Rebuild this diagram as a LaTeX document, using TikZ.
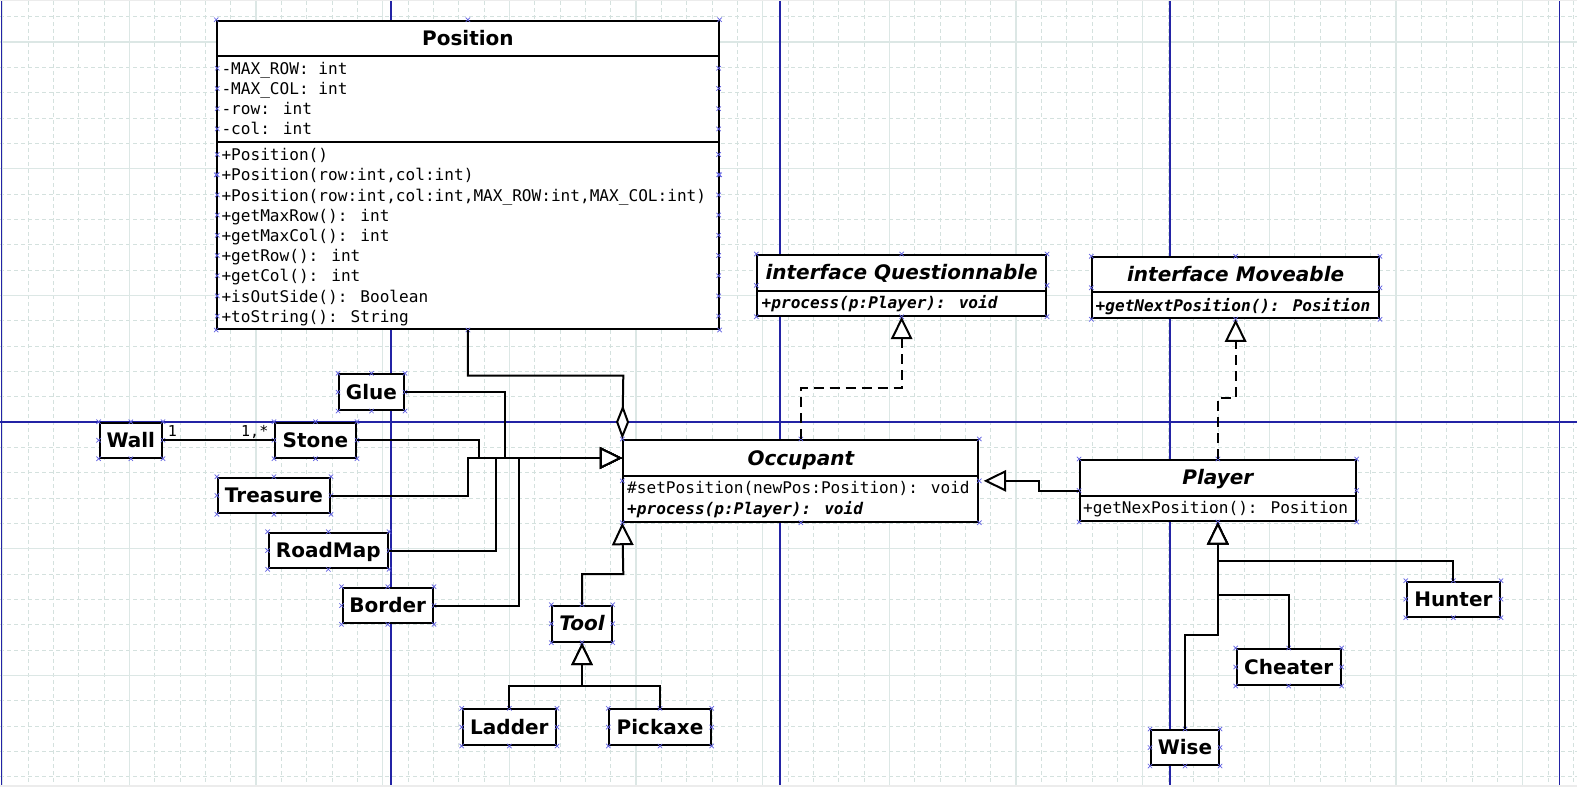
\documentclass[tikz,border=0pt]{standalone}
\usepackage{fontspec}
\setmainfont{DejaVu Sans}
\newfontfamily\monof{DejaVu Sans Mono}
\usetikzlibrary{arrows.meta}
\definecolor{gridminor}{RGB}{212,225,222}
\definecolor{gridmajor}{RGB}{220,231,229}
\definecolor{pagebreak}{RGB}{35,35,165}
\definecolor{edgegray}{RGB}{236,236,236}
\definecolor{cpblue}{RGB}{95,95,225}
\tikzset{
  umlbox/.style={draw=black, line width=2pt, fill=white, inner sep=0pt},
  ttl/.style={font=\fontsize{20}{24}\selectfont\bfseries, text height=14.6pt, text depth=0.6pt, inner sep=0pt},
  ttli/.style={ttl, font=\fontsize{20}{24}\selectfont\bfseries\itshape},
  smallcls/.style={umlbox, ttl},
  smallclsi/.style={umlbox, ttli},
  rowtxt/.style={font=\fontsize{16.1}{19}\selectfont\monof, anchor=base west, inner sep=0pt},
  rowbi/.style={rowtxt, font=\fontsize{16.1}{19}\selectfont\monof\bfseries\itshape},
  postxt/.style={rowtxt},
  divider/.style={line width=2pt},
  conn/.style={line width=2pt},
  gen/.style={conn, -{Triangle[length=22.5pt, width=21.5pt, fill=white]}},
  real/.style={gen, dash pattern=on 10pt off 6pt},
  agg/.style={conn, -{Diamond[length=34pt, width=13pt, fill=white]}},
  mult/.style={font=\fontsize{15}{18}\selectfont\monof, inner sep=0pt},
  minorline/.style={gridminor, line width=1pt, dash pattern=on 4pt off 3pt},
  majorline/.style={gridmajor, line width=1.4pt},
  pbline/.style={pagebreak, line width=1.3pt},
  cpmark/.style={cpblue, line width=0.7pt},
}
\newcommand\cpmarks[1]{%
  \foreach \a in {north west,north,north east,east,south east,south,south west,west}
    \draw[cpmark] (#1.\a) ++(-2.2,-2.2) -- ++(4.4,4.4) ++(-4.4,0) -- ++(4.4,-4.4);}
\begin{document}
\begin{tikzpicture}[x=1pt,y=-1pt]
\useasboundingbox (0,0) rectangle (1577,787);
% ---- background, grid and page-break lines
\fill[white] (0,0) rectangle (1577,787);
\fill[edgegray] (0,784.5) rectangle (1577,787);
\fill[edgegray] (0,0) rectangle (1577,1);
\foreach \i in {0,...,62} \draw[minorline] ({2.7+25.333*\i},1) -- ({2.7+25.333*\i},784.5);
\foreach \j in {0,...,30} \draw[minorline] (0,{16.7+25.333*\j}) -- (1577,{16.7+25.333*\j});
\foreach \i in {0,...,12} \draw[majorline] ({2.7+126.667*\i},1) -- ({2.7+126.667*\i},784.5);
\foreach \j in {0,...,5} \draw[majorline] (0,{42+126.667*\j}) -- (1577,{42+126.667*\j});
\foreach \x in {1.5,391,780,1170,1559.3} \draw[pbline] (\x,1) -- (\x,784.5);
\draw[pbline] (0,422) -- (1577,422);

% ---- Position
\node[umlbox, minimum width=501.4pt, minimum height=308.3pt] (position) at (467.9,174.85) {};
\node[ttl] (positionT) at (467.9,38.2) {Position};
\draw[divider] (217.2,55.7) -- (718.6,55.7);
\draw[divider] (217.2,142.3) -- (718.6,142.3);
\foreach [count=\k] \t in {-MAX\_ROW: int,-MAX\_COL: int,-row: int,-col: int}
  \node[postxt] (posA\k) at (221.3,{74.3+20.2*(\k-1)}) {\t};
\foreach [count=\k] \t in {+Position(),{+Position(row:int,col:int)},{+Position(row:int,col:int,MAX\_ROW:int,MAX\_COL:int)},+getMaxRow(): int,+getMaxCol(): int,+getRow(): int,+getCol(): int,+isOutSide(): Boolean,+toString(): String}
  \node[postxt] (posM\k) at (221.3,{160.7+20.2*(\k-1)}) {\t};
\cpmarks{position}
\foreach \k in {1,...,4} {
  \draw[cpmark] (217.2,{68.3+20.2*(\k-1)}) ++(-2.2,-2.2) -- ++(4.4,4.4) ++(-4.4,0) -- ++(4.4,-4.4);
  \draw[cpmark] (718.6,{68.3+20.2*(\k-1)}) ++(-2.2,-2.2) -- ++(4.4,4.4) ++(-4.4,0) -- ++(4.4,-4.4);}
\foreach \k in {1,...,9} {
  \draw[cpmark] (217.2,{154.5+20.2*(\k-1)}) ++(-2.2,-2.2) -- ++(4.4,4.4) ++(-4.4,0) -- ++(4.4,-4.4);
  \draw[cpmark] (718.6,{154.5+20.2*(\k-1)}) ++(-2.2,-2.2) -- ++(4.4,4.4) ++(-4.4,0) -- ++(4.4,-4.4);}

% ---- interface Questionnable
\node[umlbox, minimum width=288.7pt, minimum height=60.7pt] (quest) at (901.65,285.35) {};
\node[ttli] (questT) at (901.65,272.85) {interface Questionnable};
\draw[divider] (757.3,290.7) -- (1046,290.7);
\node[rowbi] (questM) at (761.5,308.3) {+process(p:Player): void};
\cpmarks{quest}

% ---- interface Moveable
\node[umlbox, minimum width=286.7pt, minimum height=61pt] (move) at (1235.65,287.8) {};
\node[ttli] (moveT) at (1235.65,274.8) {interface Moveable};
\draw[divider] (1092.3,292.3) -- (1379,292.3);
\node[rowbi] (moveM) at (1095.5,311) {+getNextPosition(): Position};
\cpmarks{move}

% ---- Occupant
\node[umlbox, minimum width=355pt, minimum height=81.7pt] (occupant) at (800.8,480.85) {};
\node[ttli] (occT) at (800.8,458) {Occupant};
\draw[divider] (623.3,476) -- (978.3,476);
\node[rowtxt] (occM1) at (627,493.5) {\#setPosition(newPos:Position): void};
\node[rowbi] (occM2) at (627,514) {+process(p:Player): void};
\cpmarks{occupant}

% ---- Player
\node[umlbox, minimum width=275.7pt, minimum height=61pt] (player) at (1217.85,490.5) {};
\node[ttli] (playerT) at (1217.85,477.85) {Player};
\draw[divider] (1080,495.7) -- (1355.7,495.7);
\node[rowtxt] (playerM) at (1083,513.3) {+getNexPosition(): Position};
\cpmarks{player}

% ---- small classes
\node[smallcls, minimum width=65pt, minimum height=35.7pt] (glue) at (371.5,392.15) {Glue};
\node[smallcls, minimum width=62.4pt, minimum height=35pt] (wall) at (130.8,440.2) {Wall};
\node[smallcls, minimum width=81pt, minimum height=35pt] (stone) at (315.5,440.2) {Stone};
\node[smallcls, minimum width=112.1pt, minimum height=35.6pt] (treasure) at (273.95,495.5) {Treasure};
\node[smallcls, minimum width=119.4pt, minimum height=35.6pt] (roadmap) at (328.3,550.5) {RoadMap};
\node[smallcls, minimum width=90.5pt, minimum height=35.6pt] (border) at (387.75,605.5) {Border};
\node[smallclsi, minimum width=59.4pt, minimum height=36pt] (tool) at (582,623.7) {Tool};
\node[smallcls, minimum width=93.3pt, minimum height=35.7pt] (ladder) at (509.35,727.15) {Ladder};
\node[smallcls, minimum width=101.4pt, minimum height=35.7pt] (pickaxe) at (660,727.15) {Pickaxe};
\node[smallcls, minimum width=93.3pt, minimum height=35pt] (hunter) at (1453.35,599.2) {Hunter};
\node[smallcls, minimum width=104pt, minimum height=36pt] (cheater) at (1288.7,667) {Cheater};
\node[smallcls, minimum width=68pt, minimum height=35pt] (wise) at (1185,747.5) {Wise};
\foreach \n in {glue,wall,stone,treasure,roadmap,border,tool,ladder,pickaxe,hunter,cheater,wise} {\cpmarks{\n}}

% ---- connectors
\draw[agg] (position.south) |- (623.3,375.7) -- (occupant.north west);
\draw[gen] (glue.east) -| (505.4,458) -- (occupant.west |- occT);
\draw[gen] (stone.east) -| (479.3,458) -- (occupant.west |- occT);
\draw[gen] (treasure.east) -| (467.5,458) -- (occupant.west |- occT);
\draw[gen] (roadmap.east) -| (496.4,458) -- (occupant.west |- occT);
\draw[gen] (border.east) -| (518.6,458) -- (occupant.west |- occT);
\draw[conn] (wall.east) -- (stone.west);
\node[mult, anchor=base west] (m1) at (167.6,436.7) {1};
\node[mult, anchor=base east] (m2) at (268.5,436.7) {1,*};
\draw[gen] (tool.north) |- (623.3,574) -- (occupant.south west);
\draw[gen] (ladder.north) |- (582,686) -- (tool.south);
\draw[gen] (pickaxe.north) |- (582,686) -- (tool.south);
\draw[real] (occupant.north) -- (occupant.north |- 0,387.7) -| (quest.south);
\draw[real] (player.north) -- (player.north |- 0,397.7) -| (move.south);
\draw[gen, shorten >=4.4pt] (player.west) -| (1039,480.85) -- (occupant.east);
\draw[gen] (hunter.north) |- (1217.85,560.7) -- (player.south);
\draw[gen] (cheater.north) |- (1217.85,595) -- (player.south);
\draw[gen] (wise.north) |- (1217.85,635) -- (player.south);
\end{tikzpicture}
\end{document}
